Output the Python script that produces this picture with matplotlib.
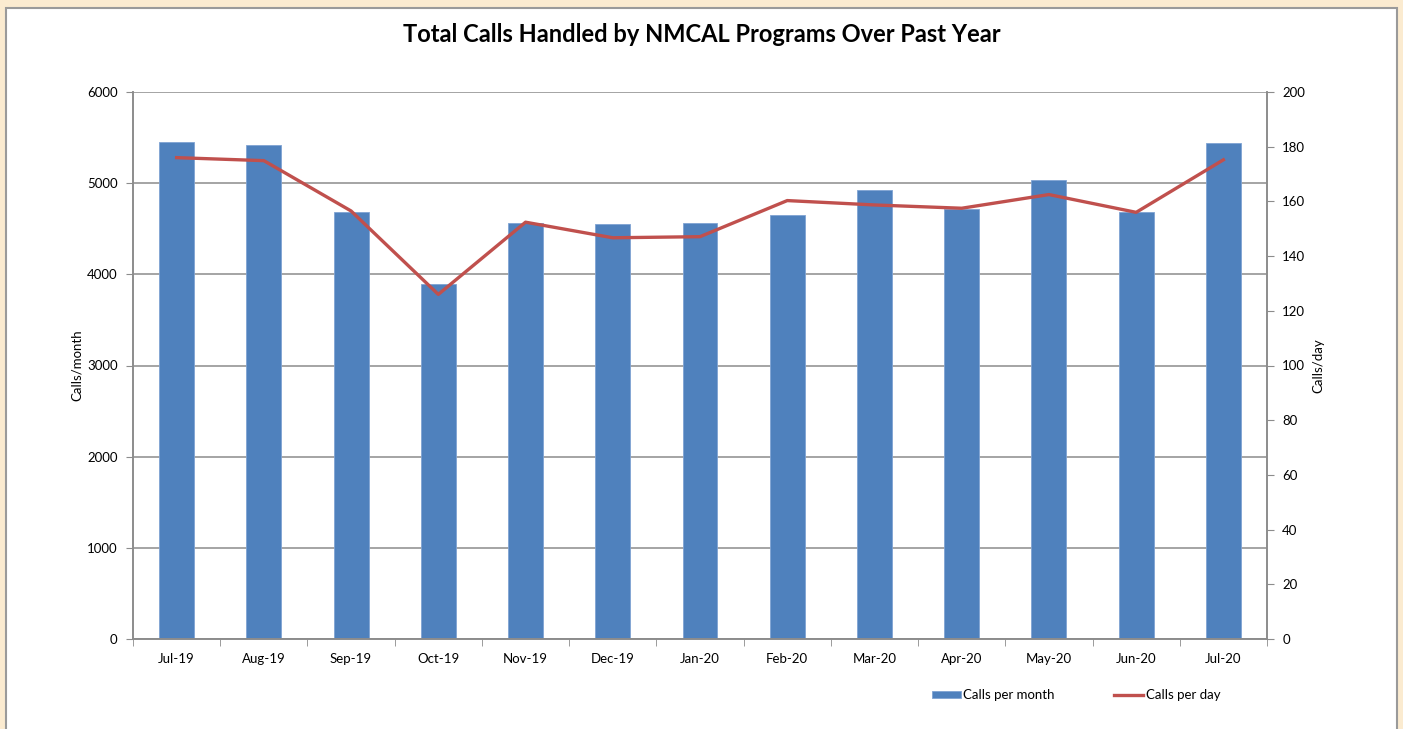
import numpy as np
import matplotlib.pyplot as plt
from matplotlib.patches import Rectangle

months = ['Jul-19', 'Aug-19', 'Sep-19', 'Oct-19', 'Nov-19', 'Dec-19', 'Jan-20',
          'Feb-20', 'Mar-20', 'Apr-20', 'May-20', 'Jun-20', 'Jul-20']
calls_per_month = [5453, 5422, 4683, 3897, 4566, 4548, 4563, 4647, 4921, 4716, 5038, 4683, 5440]
calls_per_day = [176.0, 174.9, 156.5, 126.0, 152.4, 146.7, 147.1, 160.3, 158.7, 157.5, 162.5, 156.0, 175.2]

plt.rcParams['font.family'] = ['Lato', 'DejaVu Sans']
grey = '#8c8c8c'

fig = plt.figure(figsize=(14.03, 7.29), dpi=100)
fig.patch.set_facecolor('#fbebd0')
# white chart box with grey border, behind everything
fig.patches.append(Rectangle((6 / 1403, -0.01), 1391 / 1403, 1 - 8 / 729 + 0.01,
                             transform=fig.transFigure, facecolor='white',
                             edgecolor='#9a9a9a', linewidth=1.5, zorder=-10))

ax = fig.add_axes([133 / 1403, 1 - 639 / 729, (1267 - 133) / 1403, (639 - 92) / 729])
ax.set_facecolor('none')
x = np.arange(len(months))
bars = ax.bar(x, calls_per_month, width=0.4, color='#4f81bd', edgecolor='#7fa3d3',
              linewidth=0.6, label='Calls per month', zorder=2)
ax.set_xlim(-0.5, len(months) - 0.5)
ax.set_ylim(0, 6000)
ax.set_yticks(range(0, 6001, 1000))
ax.grid(axis='y', color=grey, linewidth=1.1, zorder=0)
ax.set_axisbelow(True)
ax.set_xticks(x)
ax.set_xticklabels(months, fontsize=9.5)
ax.set_xticks(np.arange(-0.5, len(months)), minor=True)
ax.tick_params(axis='x', which='major', length=0, pad=10)
ax.tick_params(axis='x', which='minor', length=5, color=grey, direction='out')
ax.tick_params(axis='y', length=5, color=grey, labelsize=9.5, pad=6)
for s in ax.spines.values():
    s.set_color(grey)
    s.set_linewidth(1.2)
ax.spines['top'].set_visible(False)
ax.set_ylabel('Calls/month', fontsize=9.5, labelpad=3)

ax2 = ax.twinx()
line, = ax2.plot(x, calls_per_day, color='#c0504d', linewidth=2.4, label='Calls per day', zorder=3)
ax2.set_ylim(0, 200)
ax2.set_yticks(range(0, 201, 20))
ax2.tick_params(axis='y', length=5, color=grey, labelsize=9.5, pad=6)
for s in ax2.spines.values():
    s.set_color(grey)
    s.set_linewidth(1.2)
ax2.spines['top'].set_visible(False)
ax2.set_ylabel('Calls/day', fontsize=9.5, labelpad=5)

fig.text(0.5, 1 - 35 / 729, 'Total Calls Handled by NMCAL Programs Over Past Year',
         ha='center', va='center', fontsize=17, fontweight='bold')

fig.legend([bars, line], ['Calls per month', 'Calls per day'], ncol=2, frameon=False,
           loc='center', bbox_to_anchor=(1076 / 1403, 1 - 695 / 729), fontsize=9.5,
           handlelength=2.2, handleheight=0.5, handletextpad=0.2, columnspacing=4.5)

fig.savefig('out.png', dpi=100, facecolor=fig.get_facecolor())
